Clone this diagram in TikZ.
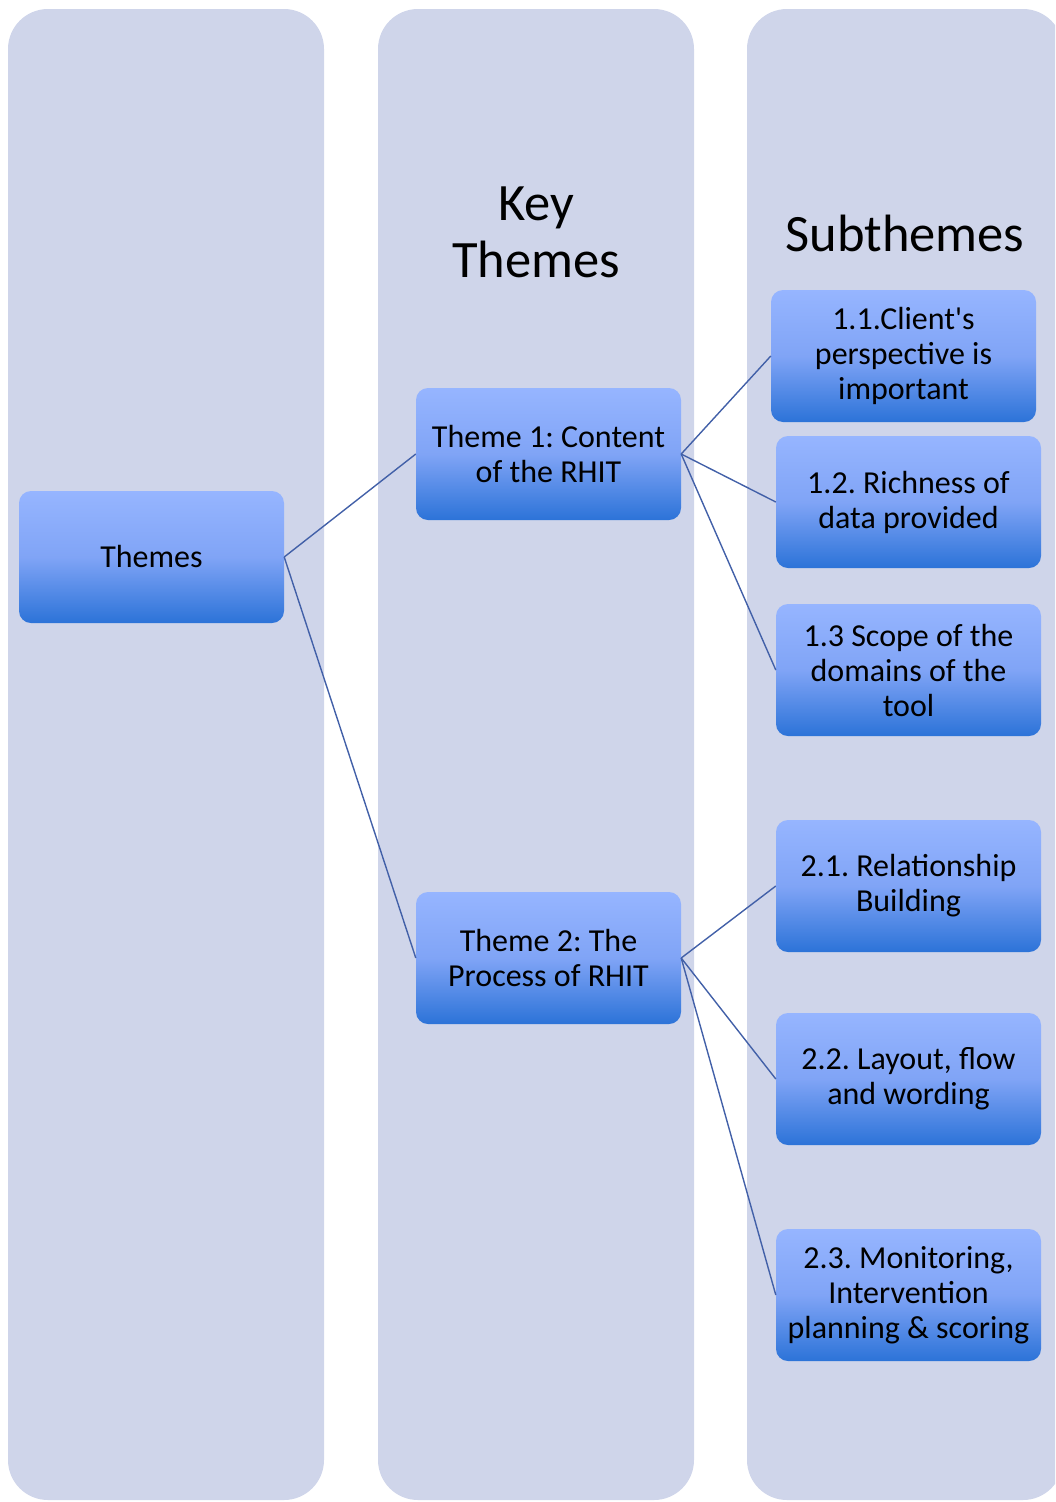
\documentclass[tikz,border=0pt]{standalone}
\usepackage{fontspec}
\setmainfont{Carlito}
\frenchspacing
\definecolor{colbg}{RGB}{207,213,234}
\definecolor{boxtop}{RGB}{150,181,255}
\definecolor{boxmid}{RGB}{128,164,246}
\definecolor{boxbot}{RGB}{44,115,216}
\definecolor{linkc}{RGB}{66,96,168}
\tikzset{
  column/.style={fill=colbg, rounded corners=40pt},
  themebox/.style={rectangle, rounded corners=12pt, minimum width=265pt, minimum height=132pt,
    inner sep=0pt, top color=boxtop, bottom color=boxbot, middle color=boxmid,
    align=center, font=\fontsize{32}{35}\selectfont, text=black},
  header/.style={align=center, font=\fontsize{52.5}{57}\selectfont, text=black},
  link/.style={draw=linkc, line width=1.4pt}
}
\begin{document}
\begin{tikzpicture}[x=1pt,y=-1pt]
\useasboundingbox (0,0) rectangle (1055,1502);
\clip (0,0) rectangle (1055,1502);
% columns
\fill[column] (8,9) rectangle (324,1500);
\fill[column] (378,9) rectangle (694,1500);
\fill[column] (747,9) rectangle (1063,1500);
% headers
\node[header] (hkey) at (536,232) {Key\\Themes};
\node[header] (hsub) at (905,233) {Subthemes};
% boxes
\node[themebox] (root) at (151.5,557) {Themes};
\node[themebox] (t1) at (548.5,454) {Theme 1: Content\\of the RHIT};
\node[themebox] (t2) at (548.5,958) {Theme 2: The\\Process of RHIT};
\node[themebox] (s11) at (903.5,356) {1.1.Client\textquotesingle s\\perspective is\\important};
\node[themebox] (s12) at (908.5,502) {1.2. Richness of\\data provided};
\node[themebox] (s13) at (908.5,670) {1.3 Scope of the\\domains of the\\tool};
\node[themebox] (s21) at (908.5,886) {2.1. Relationship\\Building};
\node[themebox] (s22) at (908.5,1079) {2.2. Layout, f{}low\\and wording};
\node[themebox] (s23) at (908.5,1295) {2.3. Monitoring,\\Intervention\\planning \& scoring};
% links
\draw[link] (root.east) -- (t1.west);
\draw[link] (root.east) -- (t2.west);
\draw[link] (t1.east) -- (s11.west);
\draw[link] (t1.east) -- (s12.west);
\draw[link] (t1.east) -- (s13.west);
\draw[link] (t2.east) -- (s21.west);
\draw[link] (t2.east) -- (s22.west);
\draw[link] (t2.east) -- (s23.west);
\end{tikzpicture}
\end{document}
